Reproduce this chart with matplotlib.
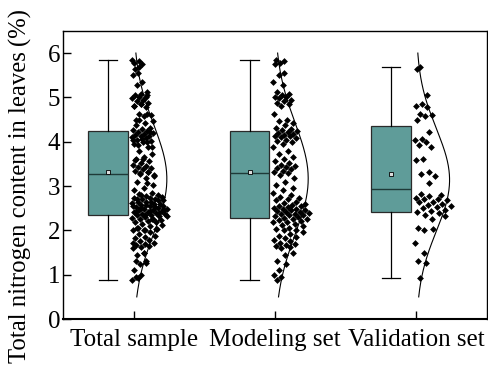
import numpy as np
import matplotlib
matplotlib.use("Agg")
import matplotlib.pyplot as plt

categories = ["Total sample", "Modeling set", "Validation set"]

modeling = [
    5.85, 5.82, 5.78, 5.75, 5.55, 5.50, 5.35, 5.28, 5.12, 5.08, 5.05, 5.02, 5.00,
    4.98, 4.95, 4.92, 4.88, 4.85, 4.80, 4.62, 4.50, 4.46, 4.42, 4.38, 4.32, 4.28,
    4.26, 4.24, 4.22, 4.20, 4.18, 4.16, 4.14, 4.12, 4.10, 4.08, 4.05, 4.02, 4.00,
    3.95, 3.88, 3.80, 3.72, 3.65, 3.60, 3.56, 3.52, 3.48, 3.45, 3.42, 3.40, 3.38,
    3.35, 3.32, 3.30, 3.25, 3.18, 3.10, 3.02, 2.95, 2.90, 2.85, 2.80, 2.76, 2.72,
    2.70, 2.68, 2.65, 2.62, 2.60, 2.58, 2.56, 2.54, 2.52, 2.50, 2.49, 2.48, 2.46,
    2.45, 2.44, 2.42, 2.41, 2.40, 2.38, 2.36, 2.35, 2.34, 2.32, 2.30, 2.28, 2.26,
    2.25, 2.24, 2.22, 2.20, 2.18, 2.15, 2.12, 2.10, 2.06, 2.04, 2.02, 2.00, 1.96,
    1.92, 1.88, 1.85, 1.82, 1.78, 1.75, 1.72, 1.70, 1.68, 1.65, 1.62, 1.60, 1.50,
    1.45, 1.30, 1.25, 1.10, 1.00, 0.95, 0.88,
]
validation = [
    5.68, 5.65, 5.06, 4.85, 4.80, 4.78, 4.62, 4.60, 4.58, 4.50, 4.23, 4.06, 4.04,
    4.00, 3.92, 3.88, 3.62, 3.58, 3.32, 3.27, 3.22, 3.06, 2.82, 2.80, 2.78, 2.74,
    2.71, 2.70, 2.68, 2.65, 2.63, 2.60, 2.58, 2.55, 2.52, 2.50, 2.47, 2.44, 2.42,
    2.40, 2.35, 2.33, 2.26, 2.05, 2.03, 2.02, 1.71, 1.50, 1.30, 1.27, 0.93,
]
total = modeling + validation

# box statistics
q1 = [2.34, 2.28, 2.41]
medians = [3.27, 3.30, 2.93]
q3 = [4.24, 4.24, 4.35]
means = [3.31, 3.31, 3.28]
whis_lo = [0.88, 0.88, 0.93]
whis_hi = [5.85, 5.85, 5.68]

yticks = [0, 1, 2, 3, 4, 5, 6]

plt.rcParams["font.family"] = ["Liberation Serif", "DejaVu Serif"]

fig = plt.figure(figsize=(4.88, 3.68), dpi=100)
ax = fig.add_axes([0.129, 0.133, 0.869, 0.783])

positions = np.arange(1, len(categories) + 1)
box_off = 0.18

stats = []
for i in range(len(categories)):
    stats.append(dict(q1=q1[i], med=medians[i], q3=q3[i], mean=means[i],
                      whislo=whis_lo[i], whishi=whis_hi[i], fliers=[]))

ax.bxp(stats, positions=positions - box_off, widths=0.28, capwidths=0.13,
       showmeans=True, patch_artist=True, manage_ticks=False,
       boxprops=dict(facecolor="#5f9c99", edgecolor="#2a2a2a", linewidth=0.9),
       medianprops=dict(color="#1e3a38", linewidth=1.0),
       whiskerprops=dict(color="black", linewidth=0.9),
       capprops=dict(color="black", linewidth=0.9),
       meanprops=dict(marker="s", markersize=2.6, markerfacecolor="#dddddd",
                      markeredgecolor="black", markeredgewidth=0.6))

golden = 0.6180339887
for i, data in enumerate([total, modeling, validation]):
    y = np.array(data, dtype=float)
    n = len(y)
    bw = 0.35
    dens = np.exp(-0.5 * ((y[:, None] - y[None, :]) / bw) ** 2).sum(axis=1)
    dens = dens / dens.max()
    width = 0.05 + 0.21 * dens
    u = (np.arange(n) * golden + 0.3 * i) % 1.0
    x = positions[i] - 0.015 + u * width
    ax.scatter(x, y, marker="D", s=12, color="black", linewidths=0, zorder=3)

    mu, sd = y.mean(), y.std(ddof=1)
    yy = np.linspace(0.5, 6.0, 200)
    pdf = np.exp(-0.5 * ((yy - mu) / sd) ** 2)
    ax.plot(positions[i] + 0.235 * pdf, yy, color="black", linewidth=0.8, zorder=2)

ax.set_xlim(0.5, 3.5)
ax.set_ylim(0, 6.5)
ax.set_xticks(positions)
ax.set_xticklabels(categories, fontsize=18)
ax.set_yticks(yticks)
ax.tick_params(axis="both", direction="in", length=6, width=1, colors="black")
ax.tick_params(axis="y", labelsize=18, pad=2)
ax.tick_params(axis="x", pad=7)
for s in ax.spines.values():
    s.set_linewidth(1.0)
ax.spines["bottom"].set_linewidth(1.5)
fig.text(0.042, 0.495, "Total nitrogen content in leaves\u2009(%)", fontsize=17.8,
         rotation=90, ha="center", va="center")

fig.savefig("out.png", dpi=100)
